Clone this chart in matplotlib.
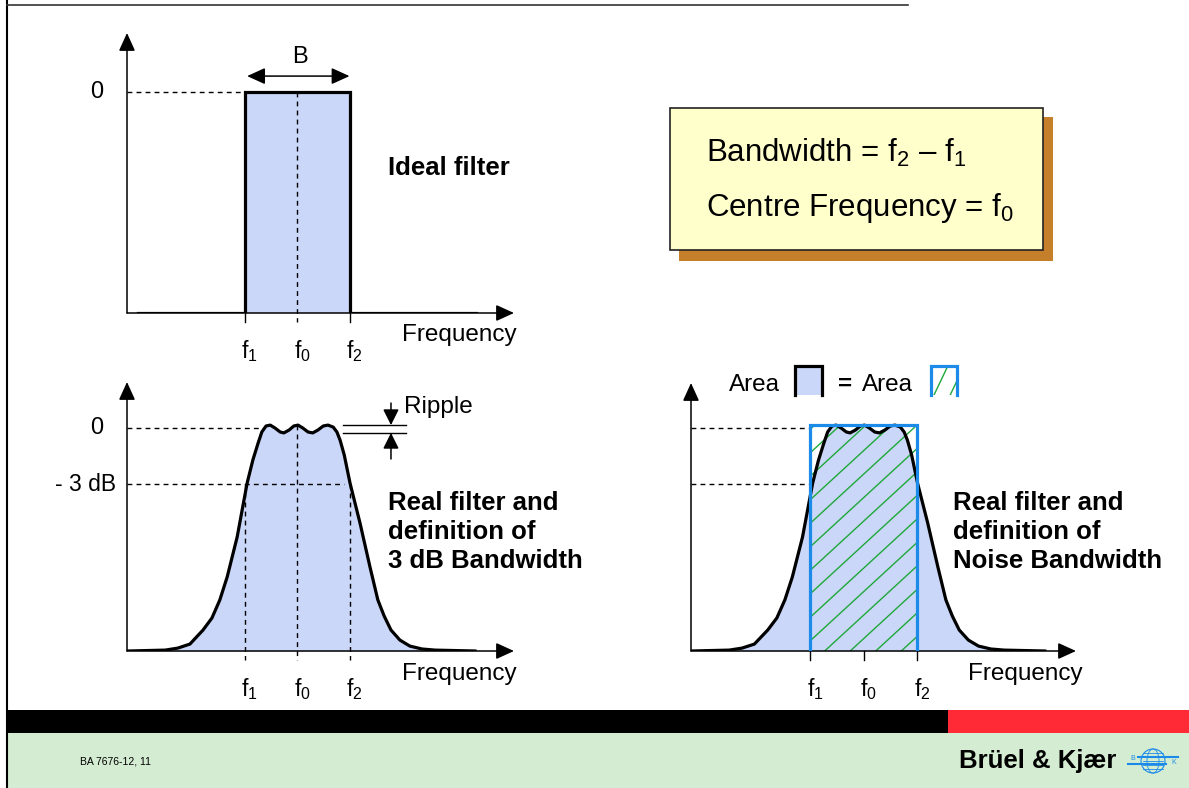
import numpy as np
import matplotlib.pyplot as plt
from matplotlib.patches import Rectangle, Circle, Ellipse

plt.rcParams['font.family'] = ['Liberation Sans', 'DejaVu Sans']
plt.rcParams['mathtext.fontset'] = 'custom'
plt.rcParams['mathtext.rm'] = 'Liberation Sans'
plt.rcParams['mathtext.it'] = 'Liberation Sans:italic'
plt.rcParams['mathtext.bf'] = 'Liberation Sans:bold'

# frequency axis in units of half the bandwidth: f1 = -1, f0 = 0, f2 = 1
marker_freqs = [-1, 0, 1]
marker_labels = [r'$\mathregular{f_1}$', r'$\mathregular{f_0}$', r'$\mathregular{f_2}$']

# level on a linear scale, 0 dB = 1
level_0db = 1.0
level_3db = 0.75

# ideal filter
ideal_freq = [-3.03, -1, -1, 1, 1, 3.41]
ideal_level = [0, 0, 1, 1, 0, 0]

# real filter
real_freq = [-3.22, -2.51, -2.27, -2.04, -1.79, -1.62, -1.47, -1.33, -1.14, -0.95,
             -0.84, -0.74, -0.67, -0.59, -0.51, -0.42, -0.32, -0.25, -0.15, -0.06,
             0.02, 0.11, 0.21, 0.30, 0.40, 0.50, 0.59, 0.69, 0.76, 0.82,
             0.90, 1.01, 1.20, 1.39, 1.54, 1.66, 1.79, 1.96, 2.15, 2.38,
             2.63, 3.39]
real_level = [0.000, 0.004, 0.013, 0.031, 0.094, 0.148, 0.229, 0.332, 0.511, 0.753,
              0.857, 0.933, 0.982, 1.009, 1.013, 1.000, 0.982, 0.978, 0.991, 1.009,
              1.013, 1.000, 0.982, 0.978, 0.991, 1.009, 1.013, 1.004, 0.982, 0.946,
              0.879, 0.753, 0.574, 0.377, 0.229, 0.157, 0.094, 0.049, 0.022, 0.009,
              0.004, 0.000]
ripple_top = 1.013
ripple_bottom = 0.978

# equivalent noise bandwidth rectangle
noise_band = [-1, 1]
noise_level = 1.013

FILL = '#CAD7F8'
BLUE = '#1C8AE8'
GREEN = '#1FA83A'
W, H = 1189, 788

fig = plt.figure(figsize=(W / 100, H / 100), dpi=100)

# full-figure layer in pixel units for the slide decoration
deco = fig.add_axes([0, 0, 1, 1])
deco.set_xlim(0, W)
deco.set_ylim(H, 0)
deco.axis('off')


def make_panel(ox, oy, fx, sx, sy, right, top):
    # ox, oy: axis origin (px); fx: position of f0 (px); sx, sy: px per unit
    ax = fig.add_axes([ox / W, 1 - oy / H, (right - ox) / W, (oy - top) / H])
    ax.set_xlim((ox - fx) / sx, (right - fx) / sx)
    ax.set_ylim(0, (oy - top) / sy)
    ax.axis('off')
    arrow = dict(arrowstyle='-|>,head_length=0.55,head_width=0.25', mutation_scale=20,
                 lw=1.1, color='black', shrinkA=0, shrinkB=0)
    ax.annotate('', xy=(1, 0), xytext=(0, 0), xycoords='axes fraction', arrowprops=arrow)
    ax.annotate('', xy=(0, 1), xytext=(0, 0), xycoords='axes fraction', arrowprops=arrow)
    return ax


def freq_labels(ax, y):
    for f, lab in zip(marker_freqs, marker_labels):
        ax.text(f + 0.1, y, lab, fontsize=16.5, ha='center', va='center', clip_on=False)


def hatch_lines(ax, clip, x_from, x_to, x_ref, y_ref, slope, step, n):
    # green diagonal hatching given in pixel units, clipped to a patch
    xs = np.array([x_from, x_to])
    for k in range(-n, n + 1):
        ys = y_ref + k * step - slope * (xs - x_ref)
        ln, = ax.plot(xs, ys, color=GREEN, lw=1.0, transform=deco.transData, zorder=1.5)
        ln.set_clip_path(clip)


dash = (0, (3.5, 3))

# ---- ideal filter ----
ax1 = make_panel(127, 313, 297, 52.5, 221, 514, 33)
ax1.fill_between(ideal_freq, ideal_level, color=FILL, lw=0)
ax1.plot(ideal_freq, ideal_level, color='black', lw=2.3, solid_joinstyle='miter')
ax1.plot([ax1.get_xlim()[0], -1], [level_0db, level_0db], color='black', lw=1, ls=dash)
ax1.plot([0, 0], [level_0db, -0.04], color='black', lw=1, ls=dash, clip_on=False)
for f in [-1, 1]:
    ax1.plot([f, f], [0, -0.04], color='black', lw=1, clip_on=False)
ax1.annotate('', xy=(1, 1.072), xytext=(-0.95, 1.072),
             arrowprops=dict(arrowstyle='<|-|>,head_length=0.55,head_width=0.25',
                             mutation_scale=20, lw=1.1, color='black', shrinkA=0, shrinkB=0))
ax1.text(0.05, 1.16, 'B', fontsize=17, ha='center', va='center')
freq_labels(ax1, -0.17)

# ---- real filter, 3 dB bandwidth ----
ax2 = make_panel(127, 651, 297, 52.5, 223, 514, 382)
ax2.fill_between(real_freq, real_level, color=FILL, lw=0)
ax2.plot(real_freq, real_level, color='black', lw=2.3)
x0 = ax2.get_xlim()[0]
ax2.plot([x0, -0.62], [level_0db, level_0db], color='black', lw=1, ls=dash)
ax2.plot([x0, 0.9], [level_3db, level_3db], color='black', lw=1, ls=dash)
ax2.plot([-1, -1], [level_3db, -0.04], color='black', lw=1, ls=dash, clip_on=False)
ax2.plot([1, 1], [level_3db, -0.04], color='black', lw=1, ls=dash, clip_on=False)
ax2.plot([0, 0], [ripple_top, -0.04], color='black', lw=1, ls=dash, clip_on=False)
for lv in [ripple_top, ripple_bottom]:
    ax2.plot([0.88, 2.08], [lv, lv], color='black', lw=1)
small_arrow = dict(arrowstyle='-|>,head_length=0.6,head_width=0.3', mutation_scale=16,
                   lw=1.1, color='black', shrinkA=0, shrinkB=0)
ax2.annotate('', xy=(1.79, ripple_top), xytext=(1.79, 1.112), arrowprops=small_arrow)
ax2.annotate('', xy=(1.79, ripple_bottom), xytext=(1.79, 0.861), arrowprops=small_arrow)
ax2.text(2.04, 1.095, 'Ripple', fontsize=17.5, ha='left', va='center')
freq_labels(ax2, -0.17)

# ---- real filter, noise bandwidth ----
ax3 = make_panel(691, 651, 863.5, 53.5, 223, 1076, 383)
ax3.fill_between(real_freq, real_level, color=FILL, lw=0)
ax3.plot(real_freq, real_level, color='black', lw=2.3)
x0 = ax3.get_xlim()[0]
ax3.plot([x0, -1], [level_0db, level_0db], color='black', lw=1, ls=dash)
ax3.plot([x0, -1], [level_3db, level_3db], color='black', lw=1, ls=dash)
for f in marker_freqs:
    ax3.plot([f, f], [0, -0.04], color='black', lw=1, clip_on=False)
noise_rect = Rectangle((noise_band[0], 0), noise_band[1] - noise_band[0], noise_level,
                       facecolor='none', lw=0)
ax3.add_patch(noise_rect)
hatch_lines(ax3, noise_rect, 790, 940, 810, 453, 0.92, 23.5, 14)
ax3.plot([noise_band[0], noise_band[0], noise_band[1], noise_band[1]],
         [0, noise_level, noise_level, 0], color=BLUE, lw=2.3, solid_joinstyle='miter',
         zorder=5)
freq_labels(ax3, -0.17)

# ---- texts ----
fs_txt = 17.5
fs_bold = 18.5
deco.text(402, 335, 'Frequency', fontsize=fs_txt, va='center')
deco.text(402, 674, 'Frequency', fontsize=fs_txt, va='center')
deco.text(968, 674, 'Frequency', fontsize=fs_txt, va='center')
deco.text(97, 92, '0', fontsize=17, ha='center', va='center')
deco.text(97, 428, '0', fontsize=17, ha='center', va='center')
deco.text(116, 484, '- 3 dB', fontsize=16.5, ha='right', va='center')
deco.text(388, 168, 'Ideal filter', fontsize=fs_bold, fontweight='bold', va='center')
deco.text(388, 532, 'Real filter and\ndefinition of\n3 dB Bandwidth', fontsize=fs_bold,
          fontweight='bold', va='center', linespacing=1.25)
deco.text(953, 532, 'Real filter and\ndefinition of\nNoise Bandwidth', fontsize=fs_bold,
          fontweight='bold', va='center', linespacing=1.25)

# area legend
deco.text(729, 385, 'Area', fontsize=fs_txt, va='center')
deco.add_patch(Rectangle((795, 366), 27, 29, facecolor=FILL, lw=0))
deco.plot([795, 795, 822, 822], [395, 366, 366, 395], color='black', lw=2.3,
          solid_joinstyle='miter')
deco.text(838, 384, '=', fontsize=fs_txt, fontweight='bold', va='center')
deco.text(862, 385, 'Area', fontsize=fs_txt, va='center')
icon_rect = Rectangle((931, 366), 26, 29, facecolor='none', lw=0)
deco.add_patch(icon_rect)
hatch_lines(deco, icon_rect, 920, 970, 934, 395, 2.1, 34, 3)
deco.plot([931, 931, 957, 957], [395, 366, 366, 395], color=BLUE, lw=2.3,
          solid_joinstyle='miter')

# definition box
deco.add_patch(Rectangle((679, 117), 374, 144, facecolor='#C57F2A', lw=0))
deco.add_patch(Rectangle((670, 108), 373, 142, facecolor='#FFFFCC', edgecolor='#222222',
                         lw=1.2))
deco.text(706, 153, r'Bandwidth = $\mathregular{f_2}$ – $\mathregular{f_1}$', fontsize=22.5,
          va='center')
deco.text(706, 208, r'Centre Frequency = $\mathregular{f_0}$', fontsize=22.5, va='center')

# slide frame and footer
deco.plot([7, 7], [0, H], color='black', lw=1.5)
deco.plot([7, 908], [5, 5], color='#333333', lw=1.2)
deco.add_patch(Rectangle((7, 710), 941, 23, facecolor='black', lw=0))
deco.add_patch(Rectangle((948, 710), W - 948, 23, facecolor='#FF2A36', lw=0))
deco.add_patch(Rectangle((7, 733), W - 7, H - 733, facecolor='#D4EDD2', lw=0))
deco.text(80, 762, 'BA 7676-12, 11', fontsize=7.5, va='center')
deco.text(959, 761, 'Brüel & Kjær', fontsize=18.5, fontweight='bold', va='center')

# logo
deco.add_patch(Circle((1153, 761), 12, fill=False, ec=BLUE, lw=0.8))
deco.add_patch(Ellipse((1153, 761), 12, 24, fill=False, ec=BLUE, lw=0.6))
for yy in [753, 757, 761, 765, 769]:
    deco.plot([1143, 1163], [yy, yy], color=BLUE, lw=0.6)
deco.plot([1138, 1178], [757, 757], color=BLUE, lw=1.5)
deco.plot([1128, 1166], [764, 764], color=BLUE, lw=1.5)
deco.text(1133, 759, 'B', fontsize=5, color=BLUE, ha='center', va='center')
deco.text(1174, 762, 'K', fontsize=5, color=BLUE, ha='center', va='center')

fig.savefig('out.png', dpi=100)
